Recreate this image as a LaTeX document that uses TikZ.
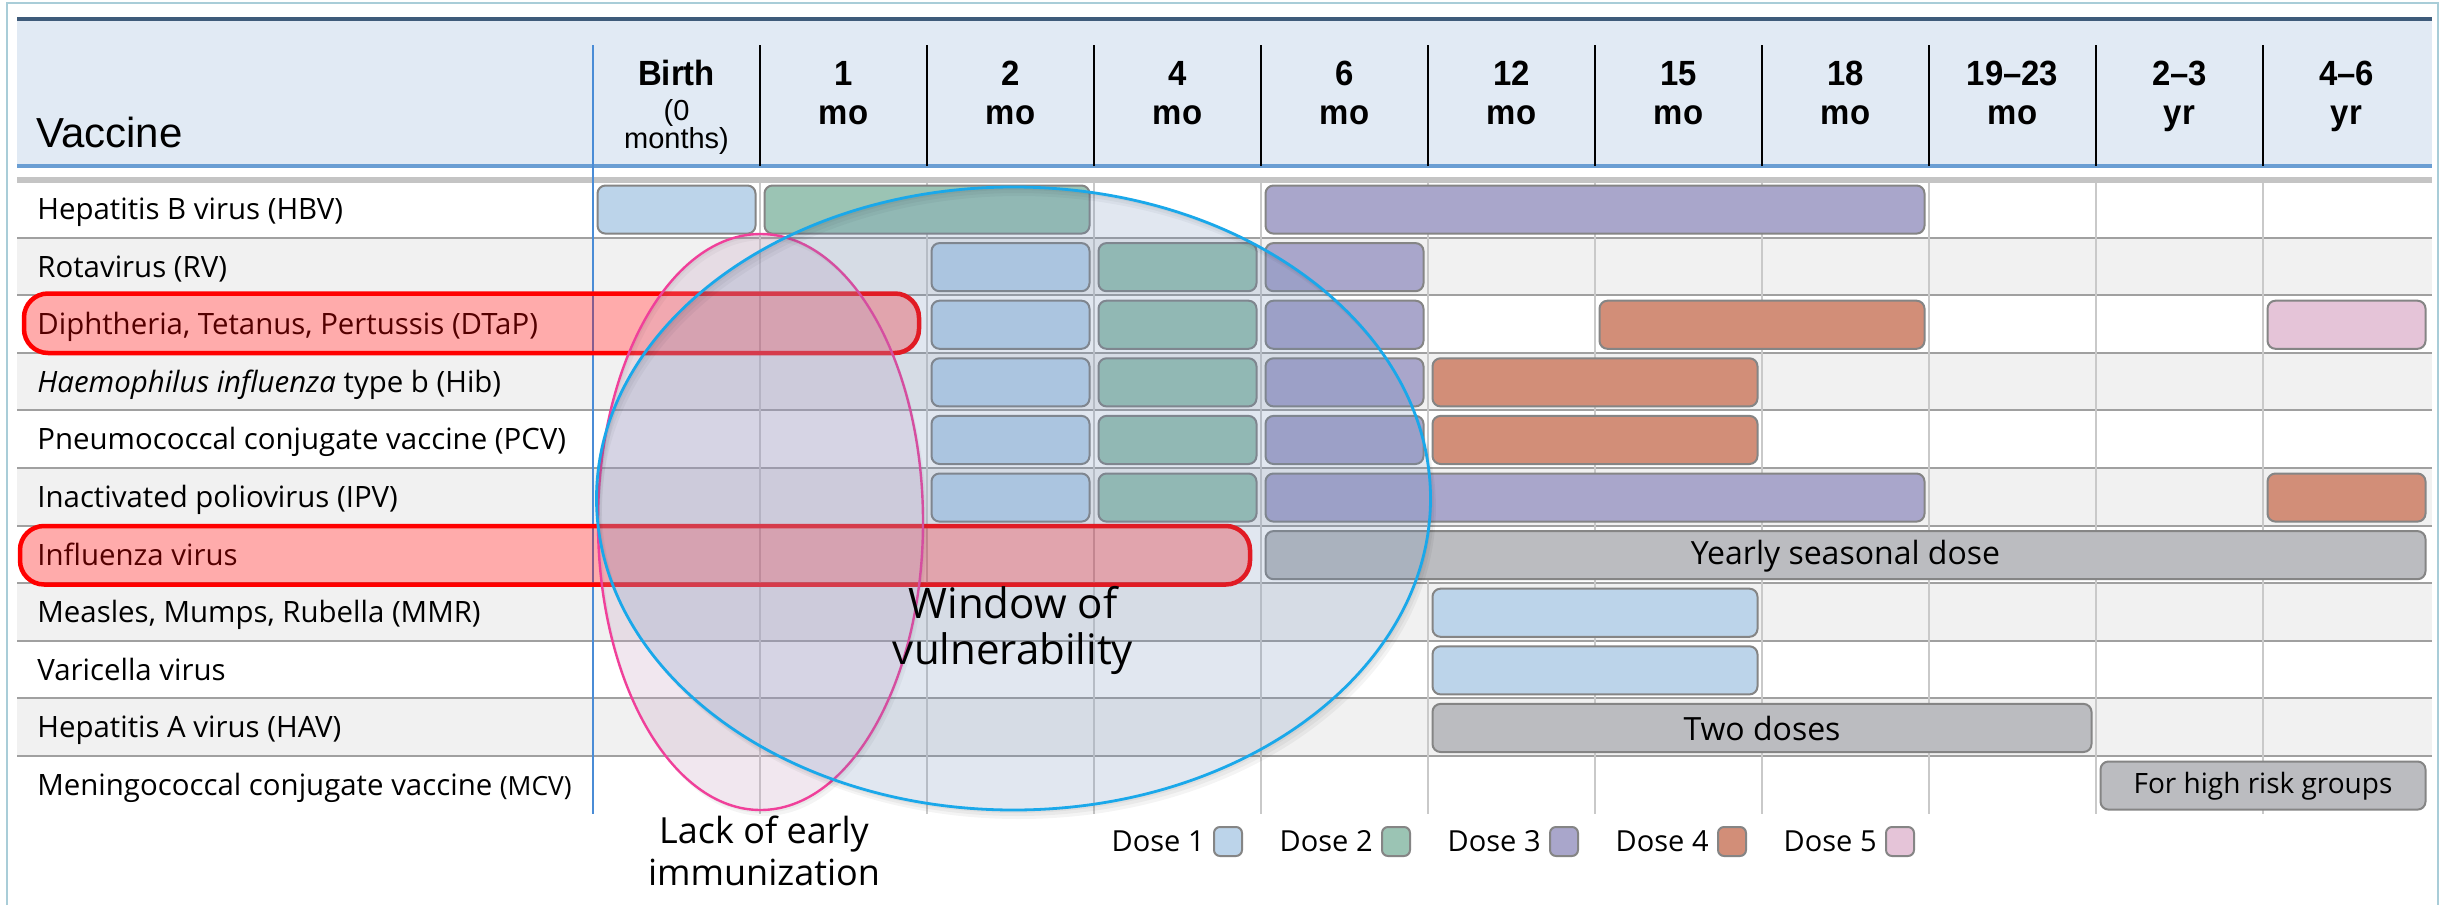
\documentclass[tikz,border=0pt]{standalone}
\usepackage{fontspec}
\setmainfont{Open Sans}
\newfontfamily\hdr{Liberation Sans}
\newfontfamily\hdrn[FakeStretch=0.94]{Liberation Sans}
\usetikzlibrary{calc}

\definecolor{hdrbg}{HTML}{E1EAF4}
\definecolor{hdrtop}{HTML}{3E5B7A}
\definecolor{hdrbot}{HTML}{6A9ED3}
\definecolor{sepgray}{HTML}{C4C4C4}
\definecolor{rowgray}{HTML}{F1F1F1}
\definecolor{rowline}{HTML}{A0A0A0}
\definecolor{gridline}{HTML}{C9C9C9}
\definecolor{birthline}{HTML}{4A8CD6}
\definecolor{framec}{HTML}{A9CDD8}
\definecolor{doseA}{HTML}{BCD4EA}
\definecolor{doseB}{HTML}{9BC4B4}
\definecolor{doseC}{HTML}{A9A6CB}
\definecolor{doseD}{HTML}{D28E78}
\definecolor{doseE}{HTML}{E5C4D8}
\definecolor{graybar}{HTML}{BBBCC0}
\definecolor{barline}{HTML}{858585}
\definecolor{pinkline}{HTML}{F0409A}
\definecolor{pinkfill}{HTML}{C8A0C0}
\definecolor{blueline}{HTML}{1AA8EA}
\definecolor{bluefill}{HTML}{6A8AB8}

% one dose bar: row, first column, last column, colour
\newcommand\dosebar[4]{%
  \draw[barbox, fill=#4] ({593+167*#2+4.5},{180+57.6*#1+5.5}) rectangle ({593+167*(#3+1)-4.5},{180+57.6*(#1+1)-4});}
% grey bar with a label: row, first column, last column, name, text, font
\newcommand\notebar[6]{%
  \draw[barbox, fill=graybar] ({593+167*#2+4.5},{180+57.6*#1+5.5}) rectangle ({593+167*(#3+1)-4.5},{180+57.6*(#1+1)-4});
  \node[font=#6, inner sep=0pt] (#4) at ({593+167*(#2+#3+1)/2},{180+57.6*#1+30.5}) {#5};}
% column header: column index, first line, second line
\newcommand\colhead[3]{%
  \node[colhd] (h#1a) at ({593+167*#1+83.5},85) {#2};
  \node[colhd] (h#1b) at ({593+167*#1+83.5},124) {#3};}
% vaccine name in a row
\newcommand\vacc[3]{%
  \node[vname] (#1) at (37,{180+57.6*#2+39.5}) {#3};}
% soft shadow ring outside an ellipse: centre x, centre y, x radius, y radius, shift
\newcommand\ellshadow[5]{%
  \fill[black, opacity=0.045, even odd rule]
    ({#1+0.6*#5},{#2+#5}) ellipse [x radius=#3, y radius=#4]
    (#1,#2) ellipse [x radius=#3, y radius=#4];}

\begin{document}
\begin{tikzpicture}[x=0.5pt,y=-0.5pt,
  barbox/.style={draw=barline, line width=1pt, rounded corners=4pt},
  colhd/.style={anchor=base, inner sep=0pt, font=\hdrn\bfseries\fontsize{17.5}{20}\selectfont},
  vname/.style={anchor=base west, inner sep=0pt, font=\fontsize{14.7}{17}\selectfont},
  redbox/.style={draw=red, line width=2.25pt, fill=red, fill opacity=0.33, rounded corners=12pt},
  legtext/.style={anchor=base east, inner sep=0pt, font=\fontsize{14.5}{17}\selectfont},
  legbox/.style={draw=barline, line width=1pt, rounded corners=3pt}]
\useasboundingbox (0,0) rectangle (2447,905);
\fill[white] (0,0) rectangle (2447,905);

% outer frame
\draw[framec, line width=1pt] (7,905) -- (7,3) -- (2438,3) -- (2438,905);

% header band
\fill[hdrbg] (17,21) rectangle (2432,166);
\fill[hdrtop] (17,17) rectangle (2432,21);
\fill[hdrbot] (17,164) rectangle (2432,168);
\fill[sepgray] (17,177) rectangle (2432,183);

% row backgrounds
\foreach \r in {1,3,5,7,9} {
  \fill[rowgray] (17,{180+57.6*\r}) rectangle (2432,{180+57.6*(\r+1)});
}
\foreach \r in {1,...,10} {
  \draw[rowline, line width=1pt] (17,{180+57.6*\r}) -- (2432,{180+57.6*\r});
}
% column rules
\foreach \c in {1,...,10} {
  \draw[gridline, line width=0.75pt] ({593+167*\c},183) -- ({593+167*\c},813.6);
  \draw[black, line width=0.6pt] ({593+167*\c},45) -- ({593+167*\c},166);
}
\draw[birthline, line width=0.9pt] (593,45) -- (593,813.6);

% header texts
\node[anchor=base west, inner sep=0pt, font=\hdr\fontsize{21}{24}\selectfont] (vh) at (36,147) {Vaccine};
\node[colhd] (birth) at (676.5,85) {Birth};
\node[anchor=base, inner sep=0pt, font=\hdr\fontsize{14.5}{17}\selectfont] (birthb) at (676.5,120) {(0};
\node[anchor=base, inner sep=0pt, font=\hdr\fontsize{14.5}{17}\selectfont] (birthc) at (676.5,148.5) {months)};
\colhead{1}{1}{mo}
\colhead{2}{2}{mo}
\colhead{3}{4}{mo}
\colhead{4}{6}{mo}
\colhead{5}{12}{mo}
\colhead{6}{15}{mo}
\colhead{7}{18}{mo}
\colhead{8}{19–23}{mo}
\colhead{9}{2–3}{yr}
\colhead{10}{4–6}{yr}

% vaccine names
\vacc{hbv}{0}{Hepatitis B virus (HBV)}
\vacc{rv}{1}{Rotavirus (RV)}
\vacc{dtap}{2}{Diphtheria, Tetanus, Pertussis (DTaP)}
\vacc{hib}{3}{\textit{Haemophilus influenza} type b (Hib)}
\vacc{pcv}{4}{Pneumococcal conjugate vaccine (PCV)}
\vacc{ipv}{5}{Inactivated poliovirus (IPV)}
\vacc{flu}{6}{Influenza virus}
\vacc{mmr}{7}{Measles, Mumps, Rubella (MMR)}
\vacc{var}{8}{Varicella virus}
\vacc{hav}{9}{Hepatitis A virus (HAV)}
\vacc{mcv}{10}{Meningococcal conjugate vaccine {\fontsize{13.2}{15}\selectfont(MCV)}}

% dose bars
\dosebar{0}{0}{0}{doseA}
\dosebar{0}{1}{2}{doseB}
\dosebar{0}{4}{7}{doseC}
\dosebar{1}{2}{2}{doseA}
\dosebar{1}{3}{3}{doseB}
\dosebar{1}{4}{4}{doseC}
\dosebar{2}{2}{2}{doseA}
\dosebar{2}{3}{3}{doseB}
\dosebar{2}{4}{4}{doseC}
\dosebar{2}{6}{7}{doseD}
\dosebar{2}{10}{10}{doseE}
\dosebar{3}{2}{2}{doseA}
\dosebar{3}{3}{3}{doseB}
\dosebar{3}{4}{4}{doseC}
\dosebar{3}{5}{6}{doseD}
\dosebar{4}{2}{2}{doseA}
\dosebar{4}{3}{3}{doseB}
\dosebar{4}{4}{4}{doseC}
\dosebar{4}{5}{6}{doseD}
\dosebar{5}{2}{2}{doseA}
\dosebar{5}{3}{3}{doseB}
\dosebar{5}{4}{7}{doseC}
\dosebar{5}{10}{10}{doseD}
\notebar{6}{4}{10}{yearly}{Yearly seasonal dose}{\fontsize{16}{19}\selectfont}
\dosebar{7}{5}{6}{doseA}
\dosebar{8}{5}{6}{doseA}
\notebar{9}{5}{8}{twodoses}{Two doses}{\fontsize{16}{19}\selectfont}
\notebar{10}{9}{10}{highrisk}{For high risk groups}{\fontsize{14}{17}\selectfont}

% highlighted rows
\draw[redbox] (24,293.5) rectangle (919,353);
\draw[redbox] (20,526) rectangle (1250,584.5);

% lack of early immunization
\ellshadow{760.5}{522}{162.5}{288}{3}
\ellshadow{760.5}{522}{162.5}{288}{6}
\draw[pinkline, line width=1.2pt, fill=pinkfill, fill opacity=0.25] (760.5,522) ellipse [x radius=162.5, y radius=288];
% window of vulnerability
\ellshadow{1013.5}{498.5}{417}{311.5}{3}
\ellshadow{1013.5}{498.5}{417}{311.5}{6}
\ellshadow{1013.5}{498.5}{417}{311.5}{9}
\draw[blueline, line width=1.4pt, fill=bluefill, fill opacity=0.2] (1013.5,498.5) ellipse [x radius=417, y radius=311.5];

\node[align=center, inner sep=0pt, font=\fontsize{21}{23}\selectfont] (window) at (1013,630) {Window of\\vulnerability};
\node[align=center, inner sep=0pt, font=\fontsize{18}{21}\selectfont] (lack) at (764,851) {Lack of early\\immunization};

% legend
\foreach \k/\t/\c in {0/Dose 1/doseA,1/Dose 2/doseB,2/Dose 3/doseC,3/Dose 4/doseD,4/Dose 5/doseE} {
  \node[legtext] (leg\k) at ({1214+168*\k-9},851) {\t};
  \draw[legbox, fill=\c] ({1214+168*\k},827) rectangle ({1214+168*\k+28},856);
}
\end{tikzpicture}
\end{document}
